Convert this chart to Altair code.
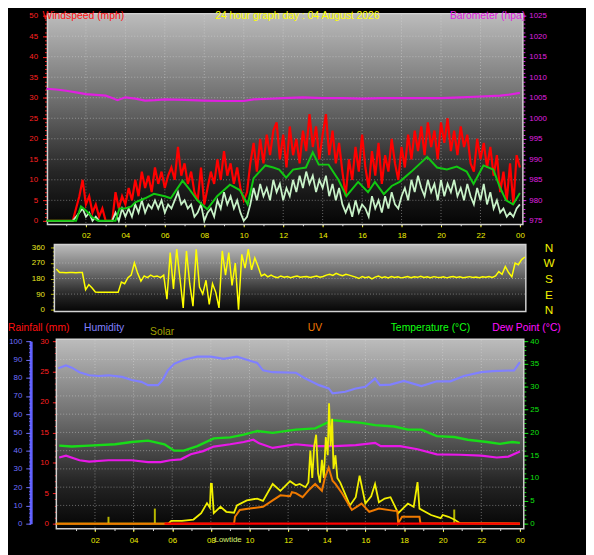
import altair as alt
import pandas as pd

# ---------------- data ----------------
# top panel, 10-minute samples from 00:00 to 24:00 (one row = one hour)
gust_mph = [
    0, 0, 0, 0, 0, 0,
    0, 0, 0, 3, 6, 10,
    4, 6, 2, 4, 1, 3,
    0, 0, 0, 7, 3, 6,
    4, 8, 5, 10, 6, 12,
    8, 11, 7, 13, 9, 12,
    8, 11, 13, 10, 18, 11,
    14, 9, 12, 7, 5, 13,
    4, 8, 12, 9, 15, 10,
    17, 11, 14, 9, 13, 8,
    5, 7, 14, 19, 12, 20,
    14, 21, 16, 22, 24, 15,
    21, 13, 23, 16, 20, 14,
    22, 17, 26, 18, 23, 15,
    21, 26, 16, 22, 14, 19,
    12, 6, 15, 10, 18, 12,
    21, 13, 8, 17, 11, 19,
    9, 16, 12, 20, 14, 10,
    18, 13, 21, 15, 22, 17,
    23, 16, 24, 18, 22, 15,
    24, 19, 25, 17, 22, 16,
    23, 18, 21, 14, 12, 20,
    15, 19, 13, 18, 11, 16,
    7, 12, 5, 14, 4, 16,
    13,
]
speed_mph = [
    0, 0, 0, 0, 0, 0,
    0, 0, 0, 1, 2, 3,
    1, 2, 0, 1, 0, 0,
    0, 0, 0, 2, 0, 3,
    1, 3, 1, 4, 2, 5,
    2, 4, 3, 5, 3, 5,
    2, 4, 3, 5, 7, 4,
    5, 3, 4, 1, 2, 4,
    0, 2, 3, 1, 5, 3,
    7, 4, 6, 3, 5, 2,
    0, 1, 4, 8, 5, 9,
    6, 8, 5, 10, 7, 9,
    5, 8, 6, 10, 7, 11,
    8, 12, 9, 11, 7, 10,
    8, 11, 6, 9, 5, 8,
    4, 2, 4, 1, 5, 2,
    4, 3, 1, 6, 3, 5,
    2, 6, 3, 7, 4, 3,
    6, 8, 5, 10, 7, 11,
    8, 6, 10, 7, 9, 5,
    10, 6, 9, 7, 10, 6,
    8, 5, 9, 6, 4, 8,
    5, 9, 4, 7, 3, 5,
    2, 3, 1, 2, 1, 3,
    4,
]
avg_hours = [0, 1.5, 1.75, 2.0, 2.3, 2.6, 3.5, 3.7, 4.0, 4.3, 4.5, 5.0, 5.45, 6.0, 6.3,
             6.9, 7.2, 7.65, 8.15, 8.65, 9.3, 9.8, 10.2, 10.5, 11.1, 11.5, 11.8, 12.15,
             12.5, 13.15, 13.5, 13.8, 14.3, 14.8, 15.2, 15.8, 16.3, 16.65, 17.1, 17.5,
             17.9, 18.5, 19.3, 19.8, 20.3, 20.8, 21.3, 21.65, 22.15, 22.65, 23.0, 23.3,
             23.65, 24.0]
avg_mph = [0, 0, 3.5, 2.5, 1, 0, 0, 3, 3, 3.5, 4.5, 5.5, 6.6, 6, 5.5,
           9.8, 8, 5, 2.8, 6, 8.8, 7.5, 4, 10.4, 13.5, 13, 12.5, 10.5,
           12.5, 13, 16.7, 13.7, 13.7, 10, 6, 9.5, 7, 9.5, 6.5, 8.5,
           9.5, 12, 15.6, 13, 12.5, 13.2, 12, 9, 13.5, 12.5, 8, 5,
           4, 6.8]
baro_hours = [0, 0.5, 1, 1.5, 2, 2.5, 3, 3.3, 3.6, 4, 4.5, 5, 5.5, 6, 7, 8, 9, 10,
              10.5, 11, 12, 13, 14, 15, 16, 17, 18, 19, 20, 21, 22, 23, 23.5, 24]
baro_hpa = [1007.2, 1007.0, 1006.7, 1006.3, 1005.9, 1005.7, 1005.5, 1005.0, 1004.4,
            1005.1, 1004.8, 1004.3, 1004.4, 1004.6, 1004.5, 1004.3, 1004.2, 1004.2,
            1004.6, 1004.7, 1004.9, 1005.1, 1004.9, 1004.9, 1004.8, 1004.9, 1004.9,
            1004.9, 1004.9, 1005.1, 1005.3, 1005.5, 1005.8, 1006.2]

# middle panel: wind direction, 10-minute samples
dir_deg = [
    235, 215, 215, 214, 215, 215,
    214, 215, 215, 115, 145, 125,
    102, 100, 100, 100, 100, 100,
    100, 100, 160, 150, 185, 200,
    270, 210, 165, 195, 185, 200,
    190, 195, 185, 200, 60, 330,
    120, 350, 180, 10, 340, 150,
    20, 350, 130, 90, 170, 30,
    150, 100, 10, 340, 200, 330,
    140, 270, 0, 320, 240, 350,
    230, 300, 250, 195, 205, 190,
    200, 190, 185, 195, 188, 192,
    185, 190, 195, 188, 190, 192,
    186, 190, 194, 188, 192, 200,
    205, 198, 210, 202, 196, 205,
    200, 194, 188, 180, 192, 185,
    190, 178, 188, 195, 185, 190,
    183, 192, 186, 190, 184, 188,
    192, 185, 190, 187, 193, 186,
    190, 185, 191, 188, 186, 190,
    184, 189, 192, 186, 190, 185,
    188, 191, 186, 189, 185, 190,
    187, 192, 186, 195, 220, 205,
    250, 215, 190, 270, 260, 290,
    305,
]

# bottom panel
hum_hours = [0.1, 0.5, 0.8, 1.2, 1.7, 2.2, 2.7, 3.4, 3.9, 4.4, 4.75, 5.26, 5.5, 5.77,
             6.1, 6.6, 7.3, 8.0, 8.66, 9.35, 9.86, 10.4, 10.7, 11.2, 12.4, 12.9, 13.6,
             14.1, 14.3, 14.96, 15.5, 16.0, 16.5, 16.75, 17.3, 17.99, 18.9, 19.7, 20.4,
             21.1, 22.0, 22.6, 23.7, 24.0]
hum_pct = [85.2, 86.7, 85.5, 83, 81.3, 80.9, 81.3, 80.4, 78.7, 77.7, 75.9, 75.9, 78.7, 84,
           87.6, 89.8, 91.5, 91.5, 90.3, 91.5, 89.8, 88.1, 84, 83, 82.7, 79.5, 75.9,
           74.1, 71.4, 72.3, 74.1, 75, 79.5, 75.9, 76.2, 78.2, 75.4, 78, 78,
           80.9, 83, 83.6, 84, 88.5]
temp_hours = [0.15, 0.8, 1.7, 3.05, 3.9, 4.75, 5.6, 6.1, 6.6, 7.3, 8.15, 9.0, 9.7, 10.4,
              11.2, 12.4, 13.4, 14.3, 15.0, 15.8, 16.5, 17.5, 18.2, 18.9, 19.7, 20.6,
              21.3, 22.3, 22.97, 23.6, 24.0]
temp_c = [17.1, 16.9, 17.1, 17.4, 17.9, 18.2, 17.4, 16.0, 16.0, 17.0, 18.7, 18.9, 19.5, 20.3,
          19.9, 20.6, 20.9, 22.7, 22.4, 22.1, 21.6, 21.3, 20.6, 20.6, 19.2, 19.0,
          18.4, 17.9, 17.5, 17.9, 17.7]
dew_hours = [0.15, 0.5, 1.2, 1.7, 2.7, 3.9, 4.75, 5.4, 5.9, 6.45, 6.96, 7.6, 8.15, 9.0,
             9.7, 10.2, 10.5, 11.2, 12.4, 13.4, 14.4, 15.5, 16.5, 16.8, 17.8, 18.7, 19.7,
             20.9, 22.0, 22.8, 23.4, 24.0]
dew_c = [14.5, 14.9, 13.9, 13.6, 13.9, 13.9, 13.5, 13.5, 13.9, 14.1, 15.2, 15.9, 16.9, 17.4,
         17.9, 18.4, 17.6, 16.6, 17.4, 17.0, 17.0, 17.2, 17.7, 17.0, 17.0, 16.3, 15.2,
         15.1, 14.9, 14.5, 14.7, 15.8]
solar_hours = [0, 5.8, 5.95, 6.5, 7.1, 7.5, 7.8, 7.95, 8.0, 8.05, 8.15, 8.5, 8.8, 9.2, 9.35,
               9.86, 10.4, 10.7, 11.2, 11.6, 12.1, 12.4, 12.6, 12.9, 13.05, 13.15, 13.25,
               13.35, 13.45, 13.55, 13.65, 13.75, 13.85, 13.95, 14.05, 14.12, 14.2, 14.28,
               14.35, 14.45, 14.55, 14.7, 14.8, 15.2, 15.5, 15.7, 16.0, 16.3, 16.5, 16.7,
               17.0, 17.3, 17.7, 18.2, 18.5, 18.7, 18.8, 19.4, 19.9, 20.0, 20.3, 20.6,
               20.9, 24.0]
solar_val = [0, 0, 0.6, 0.6, 0.9, 2.3, 4.5, 3.5, 8.7, 8.7, 2.3, 3.7, 2.6, 2.4, 4.0,
             5.1, 5.5, 5.0, 8.7, 7.2, 9.3, 8.4, 8.7, 8.0, 9.0, 16.0, 10.0,
             17.0, 19.5, 11.0, 9.0, 14.0, 10.0, 19.0, 15.0, 26.4, 17.0, 23.0,
             12.0, 15.0, 10.0, 9.0, 8.0, 4.0, 5.8, 10.5, 4.4, 6.0, 8.7, 4.7,
             5.5, 5.8, 2.3, 4.4, 3.7, 9.1, 3.3, 1.9, 1.2, 1.9, 1.5, 0.9,
             0.1, 0]
uv_hours = [0, 9.2, 9.25, 9.5, 10.0, 10.7, 11.2, 11.6, 12.1, 12.2, 12.4, 12.75, 13.1, 13.4,
            13.75, 13.9, 14.1, 14.3, 14.45, 14.8, 15.3, 15.8, 16.2, 16.7, 17.5, 17.65,
            17.7, 17.9, 18.7, 18.8, 18.85, 24.0]
uv_val = [0, 0, 1.5, 3.0, 3.3, 3.7, 5.1, 6.2, 6.0, 6.9, 6.7, 5.8, 7.5, 8.7,
          7.2, 10.0, 12.3, 9.4, 8.7, 6.6, 3.0, 4.4, 2.6, 3.3, 2.8, 2.8,
          0.1, 1.5, 1.5, 1.5, 0.1, 0]
rain_hours = [5.6, 24.0]
rain_mm = [0, 0]
marker_hours = [2.7, 5.1, 20.6]
marker_val = [1.5, 3.3, 3.1]
tide_hour = [9.6]
tide_text = ["Lowtide"]

hour_ticks = [2, 4, 6, 8, 10, 12, 14, 16, 18, 20, 22, 24]
grid_hours = [2, 4, 6, 8, 10, 12, 14, 16, 18, 20, 22]

# ---------------- layout / styling ----------------
W, H = 586, 547
TXT = "Liberation Sans, Arial, sans-serif"
TXT_SIZE = 10.5
AXF = "Liberation Sans, Arial, sans-serif"
XR_TOP, XR_MID, XR_BOT = [39, 519], [49, 524], [49, 519]
YR_TOP, YR_MID, YR_BOT = [212, 4], [302, 239], [519, 334]
D_WIND, D_BARO, D_DIR = [0, 50], [975, 1025], [0, 360]
D_TEMP, D_HUM, D_RAIN = [0, 40], [0, 100], [0, 30]

HOUR_EXPR = "datum.value == 24 ? '00' : (datum.value < 10 ? '0' + datum.value : '' + datum.value)"
DIR_EXPR = ("datum.value == 90 ? 'E' : datum.value == 180 ? 'S' : "
            "datum.value == 270 ? 'W' : 'N'")


def sc(domain, rng):
    return alt.Scale(domain=domain, range=rng, nice=False, zero=False)


def X(field, rng, axis=None):
    return alt.X(field, type="quantitative", scale=sc([0, 24], rng), axis=axis)


def Y(field, dom, rng, axis=None):
    return alt.Y(field, type="quantitative", scale=sc(dom, rng), axis=axis)


def line(hours, vals, xr, dom, yr, color, width=2.0, opacity=1.0):
    df = pd.DataFrame({"h": hours, "v": vals})
    return alt.Chart(df).mark_line(color=color, strokeWidth=width, opacity=opacity,
                                   interpolate="linear").encode(
        x=X("h", xr), y=Y("v", dom, yr))


grad = alt.Gradient(
    gradient="linear",
    stops=[alt.GradientStop(color="#bcbcbc", offset=0),
           alt.GradientStop(color="#6c6c6c", offset=0.42),
           alt.GradientStop(color="#262626", offset=0.75),
           alt.GradientStop(color="#050505", offset=1)],
    x1=0, x2=0, y1=0, y2=1)


def background(h0, h1, v0, v1, xr, dom, yr):
    df = pd.DataFrame({"h0": [h0], "h1": [h1], "v0": [v0], "v1": [v1]})
    return alt.Chart(df).mark_rect(fill=grad, stroke="#d2d2d2", strokeWidth=1.5).encode(
        x=X("h0", xr), x2="h1", y=Y("v0", dom, yr), y2="v1")


def vgrid(xr, dom, yr, v0, v1):
    df = pd.DataFrame({"h": grid_hours, "a": v0, "b": v1})
    return alt.Chart(df).mark_rule(color="#e0e0e0", opacity=0.45, strokeDash=[1, 2],
                                   strokeWidth=1).encode(
        x=X("h", xr), y=Y("a", dom, yr), y2="b")


def hgrid(vals, xr, dom, yr, h0, h1):
    df = pd.DataFrame({"v": vals, "a": h0, "b": h1})
    return alt.Chart(df).mark_rule(color="#e0e0e0", opacity=0.45, strokeDash=[1, 2],
                                   strokeWidth=1).encode(
        y=Y("v", dom, yr), x=X("a", xr), x2="b")


def ax(orient, offset, values, color, tick_color=None, size=4, pad=3, labels=True,
       fontsize=8, expr=None, font=AXF, **kw):
    args = dict(orient=orient, offset=offset, values=values, labelColor=color,
                tickColor=tick_color or color, tickSize=size, labelPadding=pad,
                labels=labels, domain=False, grid=False, title=None, labelFont=font,
                labelFontSize=fontsize, labelOverlap=False, labelFlush=False,
                labelBound=False, tickWidth=1, format="d")
    if expr:
        args["labelExpr"] = expr
    args.update(kw)
    return alt.Axis(**args)


def yaxis(dom, yr, axis):
    return alt.Chart(pd.DataFrame({"v": [dom[0]]})).mark_point(opacity=0).encode(
        y=Y("v", dom, yr, axis))


def xaxis(xr, axis):
    return alt.Chart(pd.DataFrame({"h": [0]})).mark_point(opacity=0).encode(
        x=X("h", xr, axis))


def label(txt, x, y, color, size=TXT_SIZE, align="left"):
    return alt.Chart(pd.DataFrame({"t": [txt]})).mark_text(
        align=align, baseline="alphabetic", color=color, fontSize=size, font=TXT).encode(
        x=alt.value(x), y=alt.value(y), text="t:N")


def tgrid(vals):
    return [i / 6 for i in range(len(vals))]


layers = []

# ---------------- top panel: wind & barometer ----------------
layers += [
    background(0.05, 24.15, -0.9, 50.5, XR_TOP, D_WIND, YR_TOP),
    vgrid(XR_TOP, D_WIND, YR_TOP, -0.5, 50.3),
    hgrid(list(range(5, 50, 5)), XR_TOP, D_WIND, YR_TOP, 0.1, 24.1),
    line(baro_hours, baro_hpa, XR_TOP, D_BARO, YR_TOP, "#e020e0", 2.2),
    line(tgrid(gust_mph), gust_mph, XR_TOP, D_WIND, YR_TOP, "#ff0000", 2.2),
    line(tgrid(speed_mph), speed_mph, XR_TOP, D_WIND, YR_TOP, "#c8f2c8", 1.8),
    line(avg_hours, avg_mph, XR_TOP, D_WIND, YR_TOP, "#12c812", 2.0),
    yaxis(D_WIND, YR_TOP, ax("left", -39, list(range(0, 51, 5)), "#ff2020", size=4, pad=5)),
    yaxis(D_WIND, YR_TOP, ax("left", -39, list(range(0, 51, 1)), "#ff2020", size=2,
                             labels=False)),
    yaxis(D_BARO, YR_TOP, ax("right", -64, list(range(975, 1026, 5)), "#e020e0", size=3,
                             pad=3)),
    yaxis(D_BARO, YR_TOP, ax("right", -64, list(range(975, 1026, 1)), "#e020e0", size=2,
                             labels=False)),
    xaxis(XR_TOP, ax("bottom", -332, hour_ticks, "#f0f000", size=3, pad=5, expr=HOUR_EXPR)),
    xaxis(XR_TOP, ax("bottom", -332, list(range(1, 25)), "#d8d8d8", size=2, labels=False)),
]

# ---------------- middle panel: wind direction ----------------
layers += [
    background(-0.1, 24.05, -11, 377, XR_MID, D_DIR, YR_MID),
    hgrid([90, 180, 270], XR_MID, D_DIR, YR_MID, 0, 24),
    line(tgrid(dir_deg), dir_deg, XR_MID, D_DIR, YR_MID, "#ffff00", 1.5),
    yaxis(D_DIR, YR_MID, ax("left", -47, [0, 90, 180, 270, 360], "#e8e820",
                            tick_color="#b0b000", size=4, pad=6)),
    yaxis(D_DIR, YR_MID, ax("left", -47, [i * 22.5 for i in range(17)], "#b0b000",
                            size=2, labels=False)),
    yaxis(D_DIR, YR_MID, ax("right", -61, [0, 90, 180, 270, 360], "#f0f000",
                            ticks=False, size=0, pad=23, fontsize=12, font=TXT,
                            expr=DIR_EXPR, labelAlign="center")),
]

# ---------------- bottom panel ----------------
layers += [
    background(0.0, 24.2, -1.1, 40.4, XR_BOT, D_TEMP, YR_BOT),
    vgrid(XR_BOT, D_TEMP, YR_BOT, -0.9, 40.2),
    hgrid(list(range(10, 100, 10)), XR_BOT, D_HUM, YR_BOT, 0.05, 24.15),
    line(hum_hours, hum_pct, XR_BOT, D_HUM, YR_BOT, "#8080ff", 2.2),
    line(temp_hours, temp_c, XR_BOT, D_TEMP, YR_BOT, "#18dc18", 2.4),
    line(dew_hours, dew_c, XR_BOT, D_TEMP, YR_BOT, "#e818e8", 2.2),
    alt.Chart(pd.DataFrame({"h": marker_hours, "v": marker_val, "z": 0})).mark_rule(
        color="#b8b800", strokeWidth=2).encode(x=X("h", XR_BOT), y=Y("z", D_TEMP, YR_BOT),
                                               y2="v"),
    line(solar_hours, solar_val, XR_BOT, D_TEMP, YR_BOT, "#f2f000", 1.8),
    line(uv_hours, uv_val, XR_BOT, D_TEMP, YR_BOT, "#f07a00", 2.0),
    line(rain_hours, rain_mm, XR_BOT, D_RAIN, YR_BOT, "#ff0000", 2.4),
    alt.Chart(pd.DataFrame({"h": tide_hour, "t": tide_text, "v": [-3.5]})).mark_text(
        color="#d8f070", fontSize=8, font=AXF, baseline="middle", align="right").encode(
        x=X("h", XR_BOT), y=Y("v", D_TEMP, YR_BOT), text="t:N"),
    yaxis(D_HUM, YR_BOT, ax("left", -23, list(range(0, 101, 10)), "#7070ff", size=5,
                            pad=4, domain=True, domainColor="#6060ff", domainWidth=3)),
    yaxis(D_HUM, YR_BOT, ax("left", -23, list(range(0, 101, 2)), "#7070ff", size=2,
                            labels=False)),
    yaxis(D_RAIN, YR_BOT, ax("left", -49, list(range(0, 31, 5)), "#ff2020", size=4, pad=4)),
    yaxis(D_RAIN, YR_BOT, ax("left", -49, list(range(0, 31, 1)), "#ff2020", size=2,
                             labels=False)),
    yaxis(D_TEMP, YR_BOT, ax("right", -63, list(range(0, 41, 5)), "#10e010", size=4, pad=2)),
    yaxis(D_TEMP, YR_BOT, ax("right", -63, list(range(0, 41, 1)), "#10e010", size=2,
                             labels=False)),
    xaxis(XR_BOT, ax("bottom", -23, hour_ticks, "#f0f000", size=3, pad=5, expr=HOUR_EXPR)),
    xaxis(XR_BOT, ax("bottom", -23, list(range(1, 25)), "#d8d8d8", size=2, labels=False)),
]

# ---------------- titles and legend texts ----------------
layers += [
    label("Windspeed (mph)", 35, 7.5, "#ff1010"),
    label("24 hour graph day : 04 August 2026", 210, 7.5, "#ffff00"),
    label("Barometer (hpa)", 448, 7.5, "#e020e0"),
    label("Rainfall (mm)", 0, 323.5, "#ff1010"),
    label("Humidity", 77, 323.5, "#8080ff"),
    label("Solar", 144, 328, "#a0a000"),
    label("UV", 304, 323.5, "#f07a00"),
    label("Temperature (°C)", 388, 323.5, "#10ff10"),
    label("Dew Point (°C)", 491, 323.5, "#ff10ff"),
]

chart = alt.layer(*layers).resolve_scale(x="independent", y="independent").properties(
    width=W, height=H, background="#000000", padding=0,
    autosize=alt.AutoSizeParams(type="none")
).configure_view(strokeWidth=0)

chart.save("out.html", embed_options={"renderer": "svg", "actions": False})
